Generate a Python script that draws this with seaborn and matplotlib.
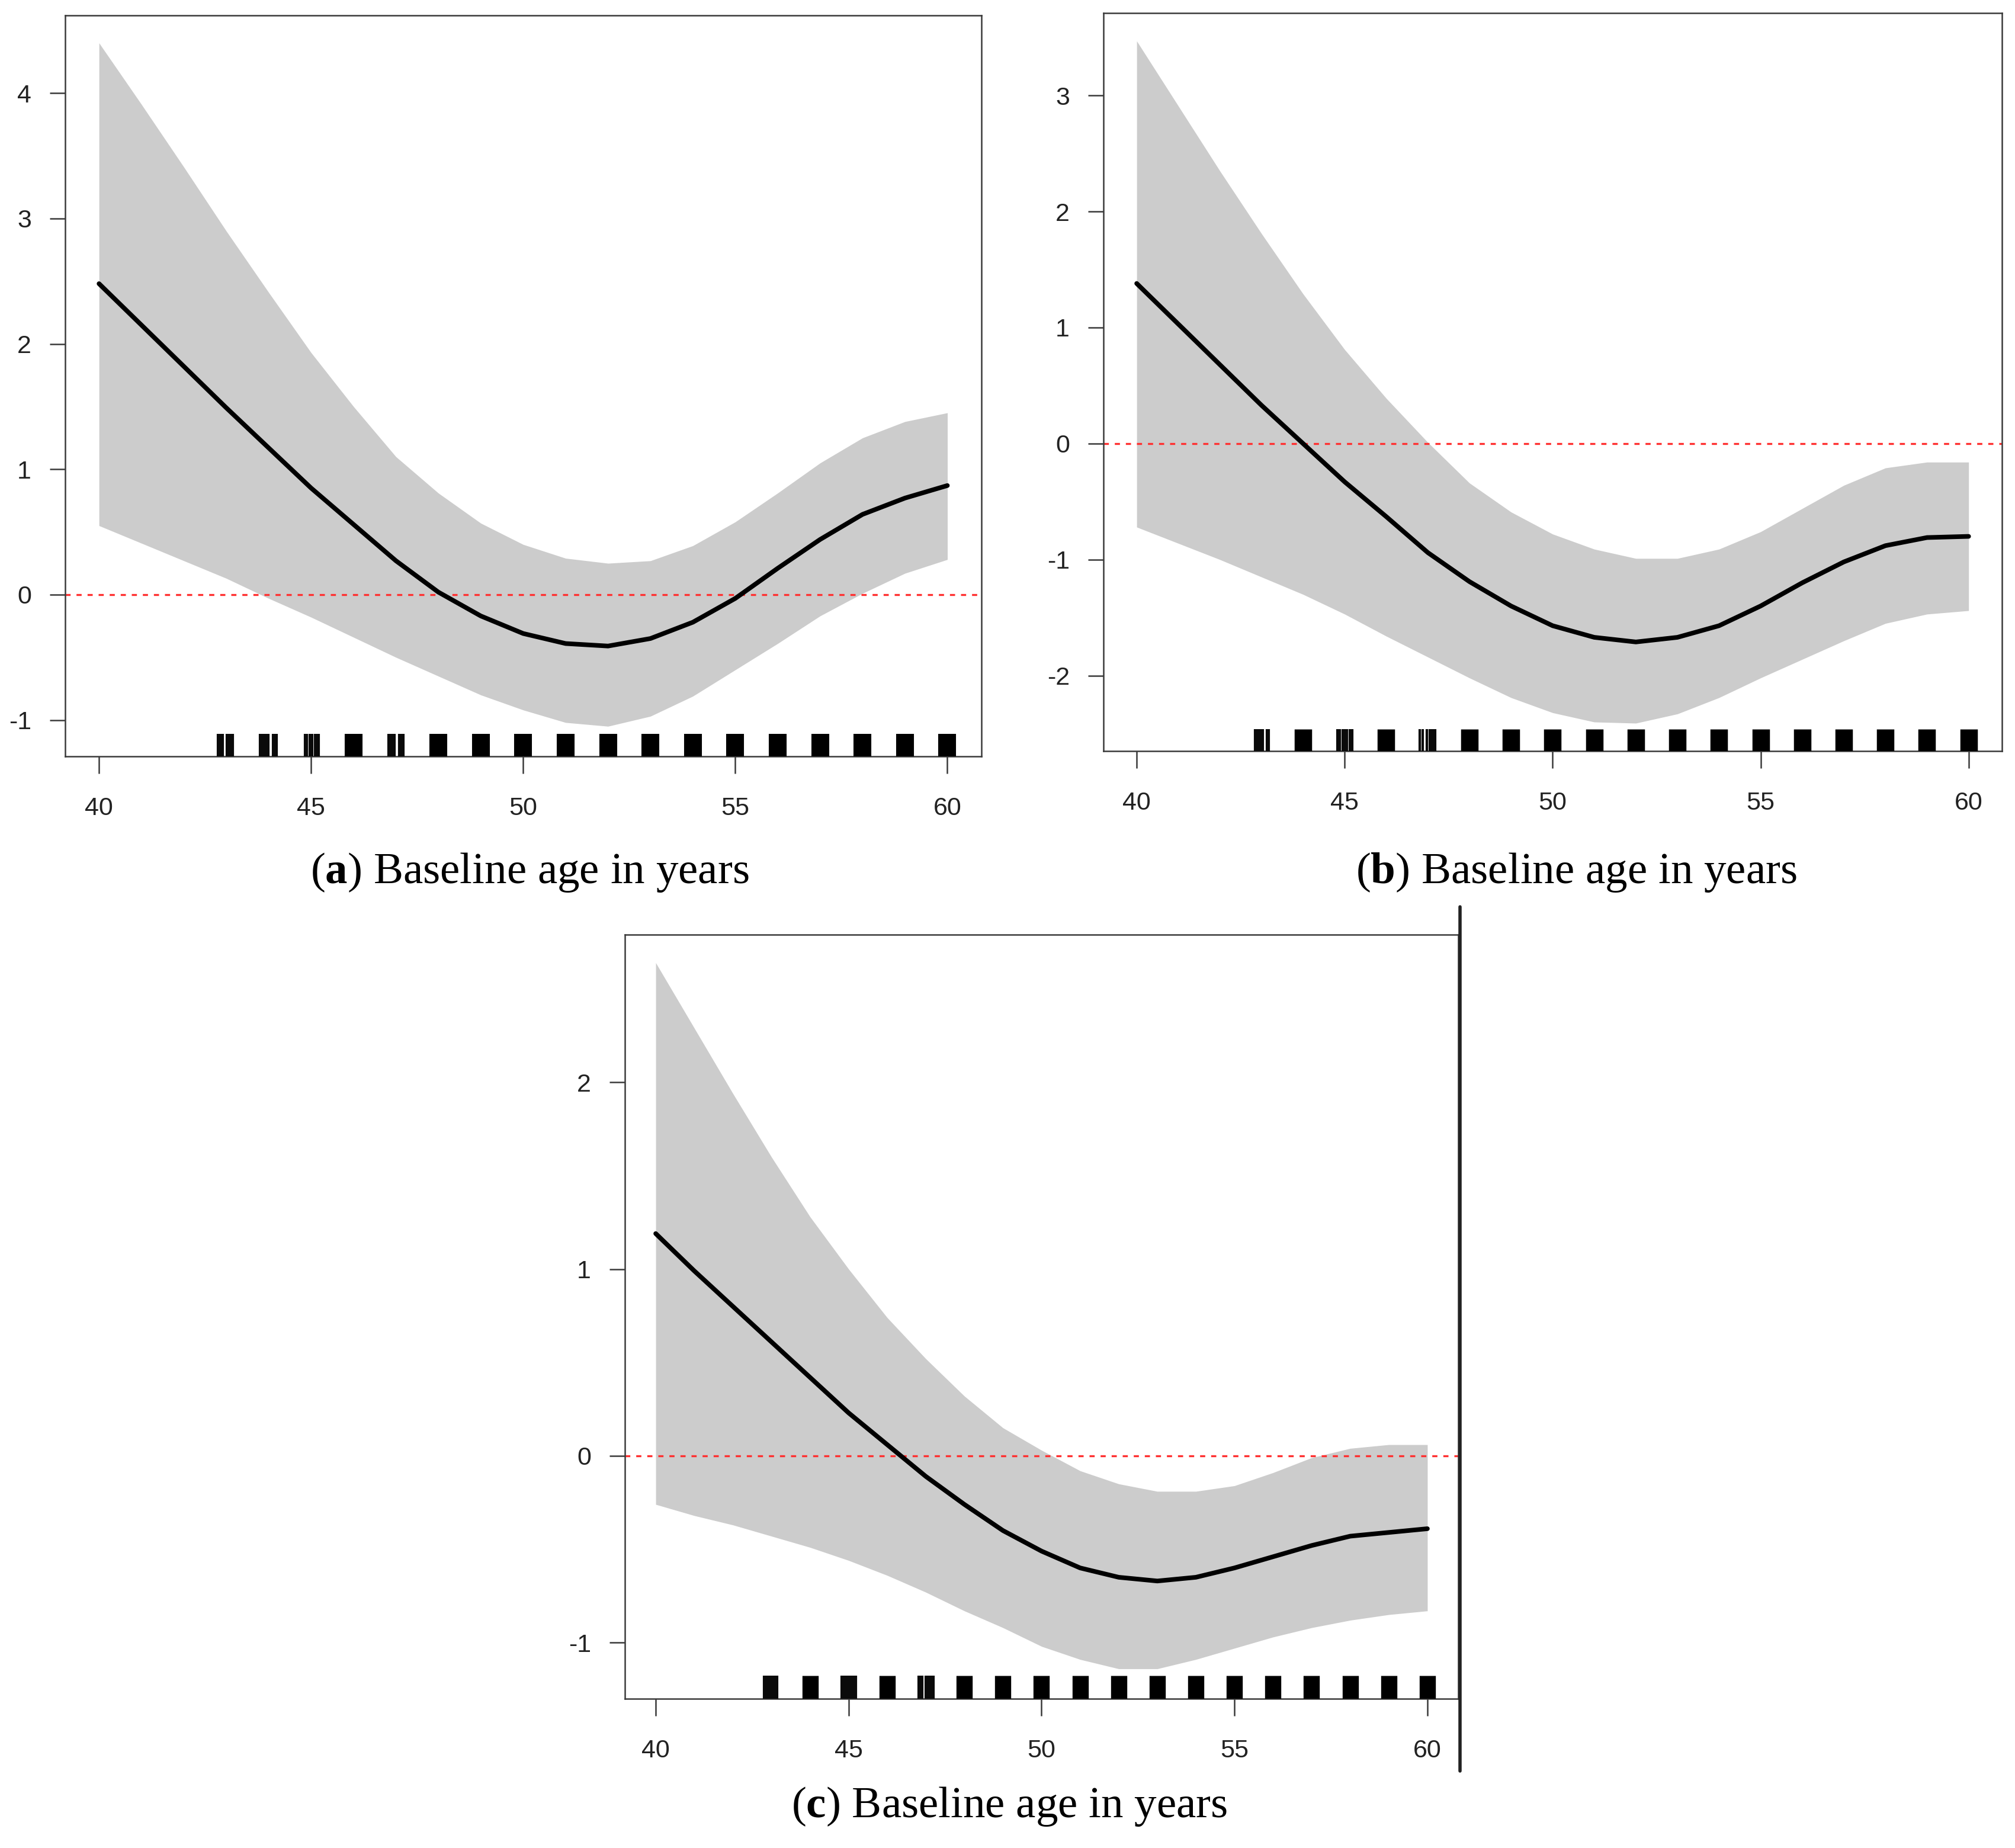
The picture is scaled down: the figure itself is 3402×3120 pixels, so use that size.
import matplotlib
matplotlib.use("Agg")
import matplotlib.pyplot as plt
import seaborn as sns

# ---------- data ----------
ages = [40, 41, 42, 43, 44, 45, 46, 47, 48, 49, 50,
        51, 52, 53, 54, 55, 56, 57, 58, 59, 60]

fit_a = [2.48, 2.15, 1.82, 1.49, 1.17, 0.85, 0.56, 0.27, 0.02, -0.17, -0.31,
         -0.39, -0.41, -0.35, -0.22, -0.03, 0.21, 0.44, 0.64, 0.77, 0.87]
hi_a = [4.40, 3.91, 3.41, 2.90, 2.41, 1.93, 1.50, 1.10, 0.81, 0.57, 0.40,
        0.29, 0.25, 0.27, 0.39, 0.58, 0.81, 1.05, 1.25, 1.38, 1.45]
lo_a = [0.55, 0.41, 0.27, 0.13, -0.03, -0.18, -0.34, -0.50, -0.65, -0.80, -0.92,
        -1.02, -1.05, -0.97, -0.81, -0.60, -0.39, -0.17, 0.01, 0.17, 0.28]

fit_b = [1.38, 1.03, 0.68, 0.33, 0.00, -0.33, -0.63, -0.94, -1.19, -1.40, -1.57,
         -1.67, -1.71, -1.67, -1.57, -1.40, -1.20, -1.02, -0.88, -0.81, -0.80]
hi_b = [3.47, 2.91, 2.35, 1.81, 1.29, 0.81, 0.39, 0.01, -0.34, -0.59, -0.78,
        -0.91, -0.99, -0.99, -0.91, -0.76, -0.56, -0.36, -0.21, -0.16, -0.16]
lo_b = [-0.72, -0.86, -1.00, -1.15, -1.30, -1.47, -1.66, -1.84, -2.02, -2.19, -2.32,
        -2.40, -2.41, -2.33, -2.19, -2.02, -1.86, -1.70, -1.55, -1.47, -1.44]

fit_c = [1.19, 0.99, 0.80, 0.61, 0.42, 0.23, 0.06, -0.11, -0.26, -0.40, -0.51,
         -0.60, -0.65, -0.67, -0.65, -0.60, -0.54, -0.48, -0.43, -0.41, -0.39]
hi_c = [2.64, 2.29, 1.94, 1.60, 1.28, 1.00, 0.74, 0.52, 0.32, 0.15, 0.03,
        -0.08, -0.15, -0.19, -0.19, -0.16, -0.09, -0.01, 0.04, 0.06, 0.06]
lo_c = [-0.26, -0.32, -0.37, -0.43, -0.49, -0.56, -0.64, -0.73, -0.83, -0.92, -1.02,
        -1.09, -1.14, -1.14, -1.09, -1.03, -0.97, -0.92, -0.88, -0.85, -0.83]

# rug: sparse ages as single observations, crowded ages as solid blocks
rug_sparse_a = [42.81, 42.86, 42.91, 43.02, 43.07, 43.11, 43.16,
                43.80, 43.85, 43.90, 43.95, 43.99, 44.10, 44.15, 44.18,
                44.85, 44.90, 44.97, 45.03, 45.09, 45.14, 45.18,
                46.82, 46.87, 46.92, 46.96, 47.08, 47.13, 47.17]
rug_dense_a = [46, 48, 49, 50, 51, 52, 53, 54, 55, 56, 57, 58, 59, 60]

rug_sparse_b = [42.85, 42.90, 42.95, 43.00, 43.03, 43.13, 43.17,
                44.82, 44.88, 44.95, 45.00, 45.05, 45.12, 45.18,
                46.80, 46.88, 46.97, 47.04, 47.09, 47.14, 47.18]
rug_dense_b = [44, 46, 48, 49, 50, 51, 52, 53, 54, 55, 56, 57, 58, 59, 60]

rug_sparse_c = [42.81, 42.85, 42.90, 42.96, 43.00, 43.05, 43.08, 43.15,
                44.82, 44.86, 44.92, 44.98, 45.03, 45.08, 45.13, 45.18,
                46.81, 46.86, 46.90, 47.00, 47.05, 47.10, 47.15, 47.20]
rug_dense_c = [44, 46, 48, 49, 50, 51, 52, 53, 54, 55, 56, 57, 58, 59, 60]

x_ticks = [40, 45, 50, 55, 60]
y_ticks_a = [-1, 0, 1, 2, 3, 4]
y_ticks_b = [-2, -1, 0, 1, 2, 3]
y_ticks_c = [-1, 0, 1, 2]

captions = ["a", "b", "c"]
caption_text = "Baseline age in years"

# ---------- style ----------
sns.set_style("ticks")
plt.rcParams['font.family'] = ['Liberation Sans', 'DejaVu Sans']
plt.rcParams['axes.unicode_minus'] = False
plt.rcParams['mathtext.fontset'] = 'custom'
plt.rcParams['mathtext.rm'] = 'Liberation Serif'
plt.rcParams['mathtext.bf'] = 'Liberation Serif:bold'

DPI = 200
fig = plt.figure(figsize=(3402 / DPI, 3120 / DPI), dpi=DPI)

# axes boxes in figure fractions [left, bottom, width, height]
boxes = [
    [0.0323, 0.5907, 0.4547, 0.4010],
    [0.5476, 0.5936, 0.4459, 0.3993],
    [0.3101, 0.0808, 0.4136, 0.4134],
]
panels = [
    (fit_a, hi_a, lo_a, rug_sparse_a, rug_dense_a, y_ticks_a, (-1.29, 4.62)),
    (fit_b, hi_b, lo_b, rug_sparse_b, rug_dense_b, y_ticks_b, (-2.65, 3.71)),
    (fit_c, hi_c, lo_c, rug_sparse_c, rug_dense_c, y_ticks_c, (-1.30, 2.79)),
]
caption_pos = [(0.263, 0.528), (0.7824, 0.528), (0.501, 0.0224)]

xlim = (39.2, 60.8)
frame_col = '#3a3a3a'

for i, (box, (fit, hi, lo, rs, rd, yt, ylim)) in enumerate(zip(boxes, panels)):
    ax = fig.add_axes(box)
    ax.fill_between(ages, lo, hi, color='#cccccc', lw=0, zorder=1)
    sns.lineplot(x=ages, y=fit, ax=ax, color='black', linewidth=2.8, zorder=3)
    ax.axhline(0, color='#ff3030', lw=1.2, dashes=(2.6, 3.0), zorder=2)

    # block width ~0.42 years expressed in points
    ax_w_px = box[2] * 3402
    block_pt = 0.42 * ax_w_px / (xlim[1] - xlim[0]) * 72 / DPI
    sns.rugplot(x=rd, ax=ax, height=0.03, color='black', linewidth=block_pt,
                capstyle='butt', zorder=4)
    sns.rugplot(x=rs, ax=ax, height=0.03, color='#0a0a0a', linewidth=1.5,
                capstyle='butt', zorder=4)

    ax.set_xlim(*xlim)
    ax.set_ylim(*ylim)
    ax.set_xticks(x_ticks)
    ax.set_yticks(yt)
    ax.set_xticklabels([str(t) for t in x_ticks])
    ax.set_yticklabels([str(t) for t in yt])
    ax.tick_params(axis='x', length=10.4, width=0.9, color=frame_col,
                   labelsize=15.5, pad=14, labelcolor='#222222')
    ax.tick_params(axis='y', length=9.5, width=0.9, color=frame_col,
                   labelsize=15.5, pad=11, labelcolor='#222222')
    ax.set_xlabel('')
    ax.set_ylabel('')
    for s in ax.spines.values():
        s.set_visible(True)
        s.set_color(frame_col)
        s.set_linewidth(0.9)

    fx, fy = caption_pos[i]
    fig.text(fx, fy, r"($\mathbf{" + captions[i] + r"}$) " + caption_text,
             ha='center', va='center', fontsize=27, family='Liberation Serif',
             color='black')

# stray vertical rule at the right of panel (c), as in the source figure
fig.add_artist(plt.Line2D([0.7247, 0.7247], [0.0417, 0.5093],
                          transform=fig.transFigure, color='#222222', lw=2.0))

fig.savefig("out.png", dpi=DPI, facecolor='white')
